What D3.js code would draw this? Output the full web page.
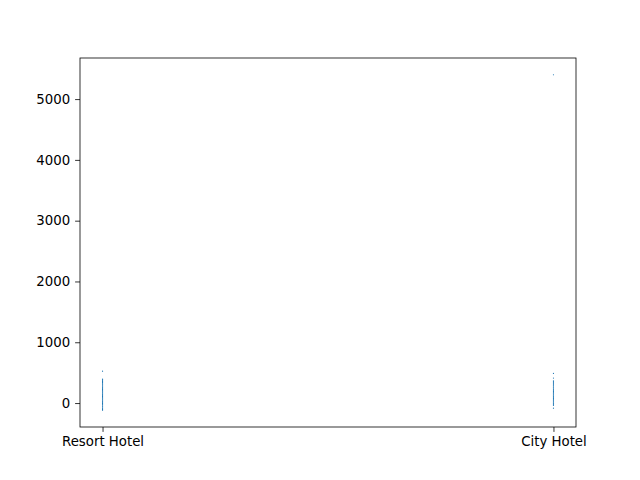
<!DOCTYPE html>
<html><head><meta charset="utf-8">
<script src="https://cdn.jsdelivr.net/npm/d3@7"></script>
<style>body{margin:0;background:#fff}svg{display:block}text{font-family:"DejaVu Sans",sans-serif}</style>
</head><body>
<svg id="c" width="640" height="480"></svg>
<script>
const categories = ["Resort Hotel", "City Hotel"];
const resortValues = [-118,-104,-91,-77,-62,-49,-33,-21,-6,8,22,37,51,66,80,94,109,123,138,152,167,181,196,210,224,239,253,268,282,297,311,326,340,355,369,384,396,525];
const cityValues = [-85,-40,-26,-11,3,18,32,47,61,76,90,105,119,134,148,163,177,192,206,221,235,250,264,279,293,308,322,337,351,366,411,488,5400];
const yTicks = [0,1000,2000,3000,4000,5000];

const svg = d3.select("#c");
const L=80,R=576,T=58,B=427;
const all = resortValues.concat(cityValues);
const mn = d3.min(all), mx = d3.max(all), pad = (mx-mn)*0.05;
const y = d3.scaleLinear().domain([mn-pad, mx+pad]).range([B,T]);
const x = d3.scalePoint().domain(categories).range([L,R]).padding(0.05);

const series = [resortValues, cityValues];
series.forEach((vals,i)=>{
  svg.append("g").selectAll("circle").data(vals).join("circle")
    .attr("cx", x(categories[i])).attr("cy", d=>y(d)).attr("r",0.6)
    .attr("fill","#1f77b4");
});

const ya = svg.append("g").attr("transform",`translate(${L},0)`)
  .call(d3.axisLeft(y).tickValues(yTicks).tickFormat(d3.format("d")).tickSize(4.9).tickPadding(4.9));
const xa = svg.append("g").attr("transform",`translate(0,${B})`)
  .call(d3.axisBottom(x).tickSize(4.9).tickPadding(4.9));
[ya,xa].forEach(a=>{
  a.select(".domain").remove();
  a.selectAll("line").attr("stroke","#000").attr("stroke-width",0.8);
  a.selectAll("text").attr("font-size","13.3px").attr("fill","#000").attr("font-family","DejaVu Sans");
});
svg.append("rect").attr("x",L).attr("y",T).attr("width",R-L).attr("height",B-T)
  .attr("fill","none").attr("stroke","#000").attr("stroke-width",0.8);
</script>
</body></html>
